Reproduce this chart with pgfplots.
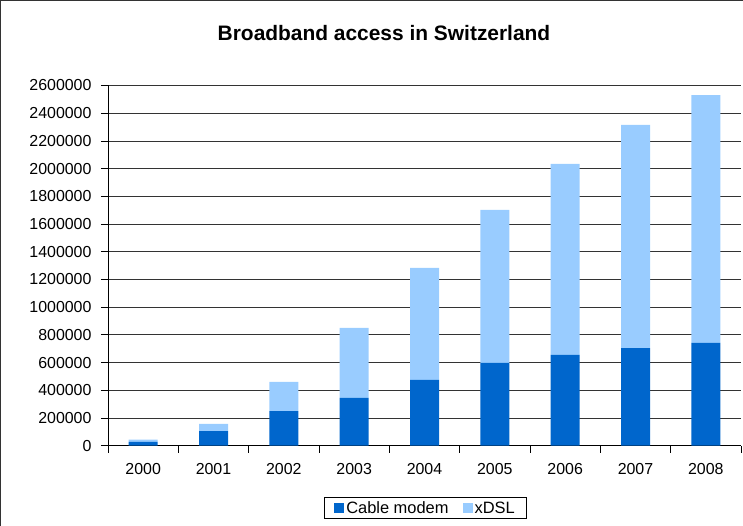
\documentclass[border=0pt]{standalone}
\usepackage{pgfplots}
\pgfplotsset{compat=1.18}
\usepackage{fontspec}
\setmainfont{Liberation Sans}
\definecolor{cable}{HTML}{0066CC}
\definecolor{xdsl}{HTML}{99CCFF}
\begin{document}
\begin{tikzpicture}
\useasboundingbox (0,0) rectangle (743bp,526bp);
\draw[line width=1.2bp, black!80] (0.8bp,-10bp) rectangle (760bp,525.2bp);
\node[font=\fontsize{21}{24}\selectfont\bfseries] at (384bp,493bp) {Broadband access in Switzerland};
\begin{axis}[
  at={(108bp,80.3bp)}, anchor=south west,
  scale only axis, width=633bp, height=360.2bp,
  ybar stacked, bar width=29bp,
  xmin=-0.5, xmax=8.5, ymin=0, ymax=2600000,
  xtick={0,1,2,3,4,5,6,7,8},
  xticklabels={2000,2001,2002,2003,2004,2005,2006,2007,2008},
  minor xtick={-0.5,0.5,1.5,2.5,3.5,4.5,5.5,6.5,7.5,8.5},
  ytick={0,200000,400000,600000,800000,1000000,1200000,1400000,1600000,1800000,2000000,2200000,2400000,2600000},
  scaled y ticks=false,
  yticklabel style={/pgf/number format/fixed, /pgf/number format/1000 sep={}, xshift=-6bp},
  /pgf/number format/assume math mode=true,
  tick label style={font=\fontsize{16}{18}\selectfont},
  axis lines*=left,
  axis line style={black, line width=1bp},
  tick align=outside,
  major tick length=7bp, minor tick length=7bp,
  major x tick style={draw=none},
  minor x tick style={black, line width=0.8bp},
  ytick style={black, line width=0.8bp},
  ymajorgrids=true,
  major grid style={black!80, line width=0.8bp},
  xticklabel style={yshift=-7bp},
  legend columns=2,
  legend style={at={(0.5016,-0.1424)}, anchor=north, draw=black, line width=0.8bp,
    font=\fontsize{16.5}{18}\selectfont, inner xsep=9.5bp, inner ysep=2bp,
    /tikz/every even column/.append style={column sep=12bp}},
  legend image code/.code={\fill[#1] (0bp,-5bp) rectangle (10bp,5bp);},
  clip=false,
]
\addplot[fill=cable, draw=none] coordinates {(0,27000) (1,106000) (2,250000) (3,345000) (4,475000) (5,597000) (6,655000) (7,705000) (8,742000)};
\addplot[fill=xdsl, draw=none] coordinates {(0,16000) (1,51000) (2,210000) (3,505000) (4,808000) (5,1105000) (6,1379000) (7,1611000) (8,1788000)};
\legend{Cable modem, xDSL}
\end{axis}
\end{tikzpicture}
\end{document}
